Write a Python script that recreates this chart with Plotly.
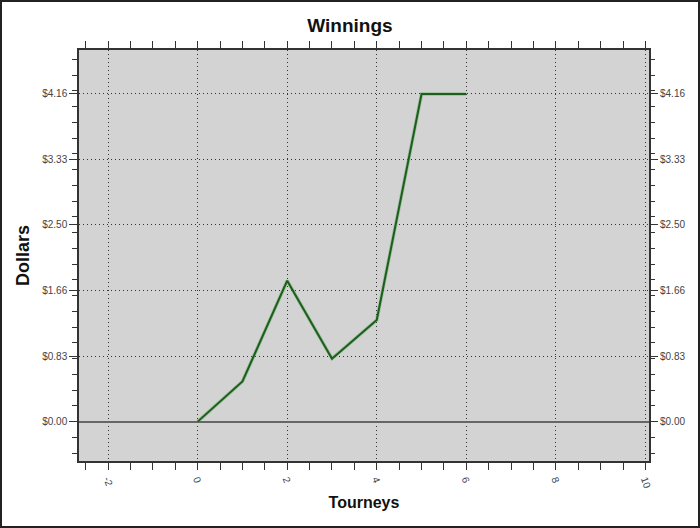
import plotly.graph_objects as go

tourneys = [0, 1, 2, 3, 4, 5, 6]
dollars = [0.0, 0.51, 1.79, 0.80, 1.29, 4.16, 4.16]
y_tick_vals = [0.0, 0.8325, 1.665, 2.4975, 3.33, 4.1625]
y_tick_text = ["$0.00", "$0.83", "$1.66", "$2.50", "$3.33", "$4.16"]
x_tick_vals = [-2, 0, 2, 4, 6, 8, 10]

W, H = 700, 528
ML, MR, MT, MB = 79, 51, 50, 67
PW, PH = W - ML - MR, H - MT - MB

font = "Liberation Sans, Arial, sans-serif"
fig = go.Figure()
fig.add_trace(go.Scatter(x=tourneys, y=dollars, mode="lines",
                         line=dict(color="#3a9a3a", width=3.5), opacity=0.35,
                         hoverinfo="skip", showlegend=False))
fig.add_trace(go.Scatter(x=tourneys, y=dollars, mode="lines",
                         line=dict(color="#1c5f1c", width=2), showlegend=False))
fig.add_trace(go.Scatter(x=[None], y=[None], yaxis="y2", showlegend=False))

yr = [-0.5, 4.72]
xr = [-2.65, 10.08]
grid_dash = "1px,3px"
tickfont = dict(family=font, size=10, color="#444")
fig.update_layout(
    width=W, height=H,
    margin=dict(l=ML, r=MR, t=MT, b=MB, autoexpand=False),
    paper_bgcolor="white", plot_bgcolor="#d3d3d3",
    title=dict(text="<b>Winnings</b>", x=0.5, xanchor="center", y=1 - 25 / H, yanchor="middle",
               font=dict(family=font, size=19, color="#111")),
    font=dict(family=font, size=10, color="#333"),
    xaxis=dict(range=xr, tickvals=x_tick_vals, ticktext=[str(v) for v in x_tick_vals],
               tickangle=70, ticks="outside", ticklen=7, tickcolor="#333", tickwidth=1,
               showline=True, linecolor="#333", linewidth=1.5, mirror="allticks",
               showgrid=True, gridcolor="#333", griddash=grid_dash, gridwidth=1,
               zeroline=False, automargin=False,
               minor=dict(dtick=0.5, tick0=0, ticks="outside", ticklen=4, tickcolor="#333", showgrid=False),
               title=dict(text="<b>Tourneys</b>", font=dict(family=font, size=16, color="#111"), standoff=8),
               tickfont=tickfont),
    yaxis=dict(range=yr, tickvals=y_tick_vals, ticktext=y_tick_text,
               ticks="outside", ticklen=8, tickcolor="#333", tickwidth=1,
               showline=True, linecolor="#333", linewidth=1.5, mirror=True,
               showgrid=True, gridcolor="#333", griddash=grid_dash, gridwidth=1,
               zeroline=True, zerolinecolor="#666", zerolinewidth=2, automargin=False,
               minor=dict(dtick=0.2, tick0=0, ticks="outside", ticklen=5, tickcolor="#333", showgrid=False),
               title=dict(text="<b>Dollars</b>", font=dict(family=font, size=18, color="#111"), standoff=8),
               tickfont=tickfont),
    yaxis2=dict(range=yr, overlaying="y", side="right", tickvals=y_tick_vals, ticktext=y_tick_text,
                ticks="outside", ticklen=8, tickcolor="#333", showgrid=False, zeroline=False,
                showline=False, automargin=False,
                minor=dict(dtick=0.2, tick0=0, ticks="outside", ticklen=5, tickcolor="#333", showgrid=False),
                tickfont=tickfont),
    shapes=[dict(type="rect", xref="paper", yref="paper",
                 x0=-(ML - 1) / PW, x1=1 + (MR - 1) / PW,
                 y0=-(MB - 1) / PH, y1=1 + (MT - 1) / PH,
                 line=dict(color="#222", width=2), layer="above")],
)
fig.write_html("out.html", config={"displayModeBar": False},
               post_script="document.body.style.margin='0';document.body.style.padding='0';")
